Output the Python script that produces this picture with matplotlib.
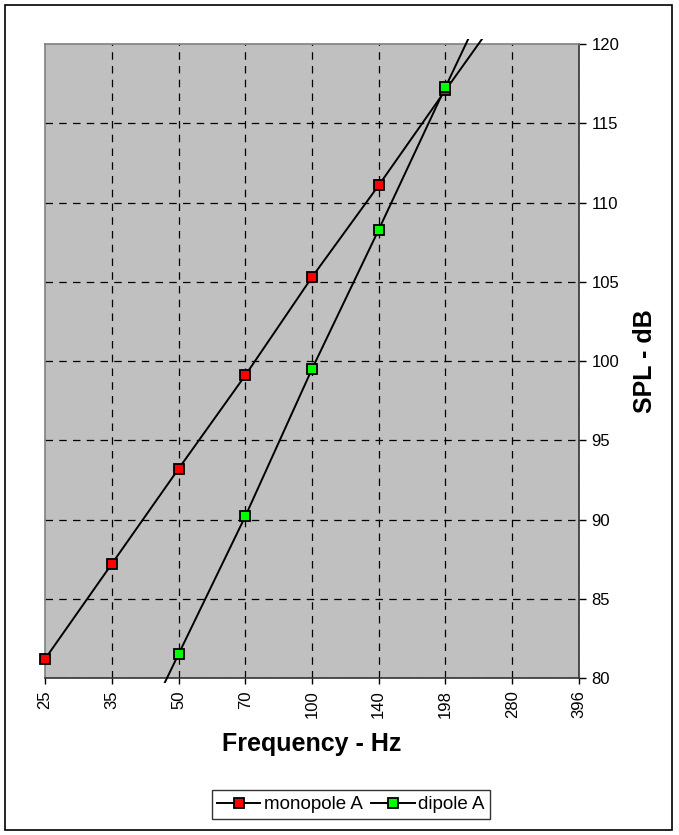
import matplotlib.pyplot as plt
import numpy as np
from matplotlib.patches import Rectangle

plt.rcParams['font.family'] = ['Liberation Sans', 'DejaVu Sans']

# Dados
frequencias = ['25', '35', '50', '70', '100', '140', '198', '280', '396']
monopolo = [81.2, 87.2, 93.2, 99.1, 105.3, 111.1, 117.1, 123.0, None]
dipolo = [None, 72.8, 81.5, 90.2, 99.5, 108.3, 117.3, 126.2, None]

fig = plt.figure(figsize=(6.79, 8.35), dpi=100)
ax = fig.add_axes([0.0663, 0.188, 0.7864, 0.759])
ax.set_facecolor('#C0C0C0')

x = np.arange(len(frequencias))
clip = Rectangle((0, -0.008), 1, 1.016, transform=ax.transAxes)

for valores, cor, nome in [(monopolo, '#FF0000', 'monopole A'),
                           (dipolo, '#00FF00', 'dipole A')]:
    xs = np.array([i for i, v in zip(x, valores) if v is not None])
    ys = np.array([v for v in valores if v is not None])
    linha, = ax.plot(xs, ys, color='black', linewidth=1.4, zorder=3)
    linha.set_clip_path(clip)
    vis = (ys >= 80) & (ys <= 120)
    ax.plot(xs[vis], ys[vis], linestyle='none', marker='s', markersize=7.8,
            markerfacecolor=cor, markeredgecolor='black', markeredgewidth=1.3,
            clip_on=False, zorder=4)
    # entrada da legenda
    ax.plot([], [], color='black', linewidth=1.4, marker='s', markersize=7.5,
            markerfacecolor=cor, markeredgecolor='black', markeredgewidth=1.3,
            label=nome)

ax.set_xlim(0, len(frequencias) - 1)
ax.set_ylim(80, 120)
ax.set_xticks(x)
ax.set_xticklabels(frequencias, rotation=90, fontsize=12)
ax.set_yticks(np.arange(80, 121, 5))
ax.yaxis.tick_right()
ax.yaxis.set_label_position('right')
ax.tick_params(axis='y', direction='out', length=5, width=1, labelsize=12, pad=4)
ax.tick_params(axis='x', direction='out', length=4, width=1, pad=5)

ax.grid(True, color='black', linestyle=(0, (6, 5)), linewidth=0.9)
ax.set_axisbelow(True)
# sem grade sobre as bordas cinzas
ax.get_xgridlines()[0].set_visible(False)
ax.get_ygridlines()[-1].set_visible(False)

ax.spines['top'].set_color('#808080')
ax.spines['left'].set_color('#808080')
ax.spines['right'].set_color('#333333')
ax.spines['bottom'].set_color('#333333')
for s in ax.spines.values():
    s.set_linewidth(1.2)

ax.set_xlabel('Frequency - Hz', fontsize=18, fontweight='bold', labelpad=10)
ax.set_ylabel('SPL - dB', fontsize=18, fontweight='bold', labelpad=10)

leg = ax.legend(loc='center', bbox_to_anchor=(351 / 679, 1 - 804.5 / 835),
                bbox_transform=fig.transFigure, ncol=2, fontsize=13.5,
                frameon=True, fancybox=False, edgecolor='black',
                handlelength=2.3, handletextpad=0.2, columnspacing=0.45,
                borderpad=0.3, borderaxespad=0)
leg.get_frame().set_linewidth(1)

# moldura externa
fig.patches.append(Rectangle((0.008, 0.006), 0.982, 0.988, transform=fig.transFigure,
                             fill=False, edgecolor='black', linewidth=1.2))

plt.savefig('out.png', dpi=100)
